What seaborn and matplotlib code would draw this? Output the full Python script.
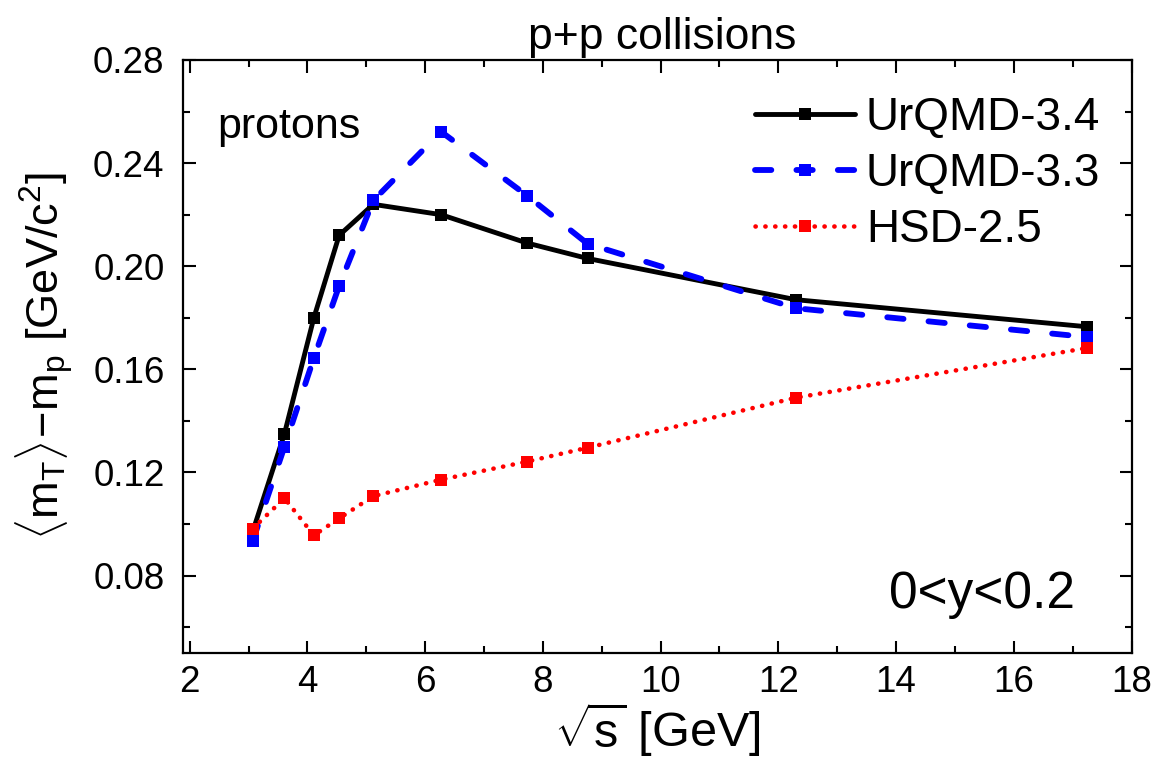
import numpy as np
import pandas as pd
import matplotlib
matplotlib.use("Agg")
import matplotlib.pyplot as plt
from matplotlib.ticker import MultipleLocator
import seaborn as sns

# collision energies sqrt(s) [GeV]
energies = [3.07, 3.61, 4.11, 4.54, 5.12, 6.27, 7.73, 8.76, 12.3, 17.25]

# <mT> - mp [GeV/c^2]
urqmd34 = [0.097, 0.135, 0.180, 0.212, 0.224, 0.220, 0.209, 0.203, 0.187, 0.1765]
urqmd33 = [0.0933, 0.130, 0.1644, 0.1924, 0.2255, 0.2522, 0.2274, 0.2087, 0.1837, 0.1725]
hsd25 = [0.0982, 0.110, 0.0956, 0.1022, 0.1108, 0.1172, 0.1242, 0.1296, 0.149, 0.1683]

series_names = ["UrQMD-3.4", "UrQMD-3.3", "HSD-2.5"]

sns.set_style("ticks")
plt.rcParams['font.family'] = ['Liberation Sans', 'DejaVu Sans']
plt.rcParams['mathtext.fontset'] = 'custom'
plt.rcParams['mathtext.rm'] = 'Liberation Sans'
plt.rcParams['mathtext.it'] = 'Liberation Sans'
for key in ['text.color', 'axes.labelcolor', 'xtick.color', 'ytick.color', 'axes.edgecolor']:
    plt.rcParams[key] = 'black'

fig = plt.figure(figsize=(11.63, 7.69), dpi=100)
ax = fig.add_axes([0.157, 0.151, 0.816, 0.771])

# one line per model
sns.lineplot(x=energies, y=urqmd34, ax=ax, color='black', marker='s',
             markersize=8, markeredgewidth=0, linewidth=3.5, sort=False,
             solid_capstyle='round', label=series_names[0])
sns.lineplot(x=energies, y=urqmd33, ax=ax, color='#0000ff', marker='s',
             markersize=8, markeredgewidth=0, linewidth=4.2, sort=False,
             linestyle=(0, (2.8, 4.3)), dash_capstyle='round',
             label=series_names[1])
sns.lineplot(x=energies, y=hsd25, ax=ax, color='#ff0000', marker='s',
             markersize=8.7, markeredgewidth=0, linewidth=3.3, sort=False,
             linestyle=(0, (0.05, 2.1)), dash_capstyle='round',
             label=series_names[2])

ax.set_xlim(1.88, 18)
ax.set_ylim(0.05, 0.28)
ax.xaxis.set_major_locator(MultipleLocator(2))
ax.xaxis.set_minor_locator(MultipleLocator(1))
ax.yaxis.set_major_locator(MultipleLocator(0.04))
ax.yaxis.set_minor_locator(MultipleLocator(0.02))
ax.yaxis.set_major_formatter(matplotlib.ticker.FormatStrFormatter('%.2f'))

ax.tick_params(which='both', direction='in', top=True, right=True, width=1.5)
ax.tick_params(which='major', length=9, labelsize=26.5)
ax.tick_params(axis='y', which='major', pad=13)
ax.tick_params(axis='x', which='major', pad=9)
ax.tick_params(which='minor', length=5)
for lab in ax.get_xticklabels():
    lab.set_family(['Liberation Sans Narrow', 'Liberation Sans'])
for sp in ax.spines.values():
    sp.set_linewidth(1.6)

ax.set_xlabel(r'$\sqrt{\mathrm{s}}$ [GeV]', fontsize=35, labelpad=0)
ax.set_ylabel(r'$\langle\mathrm{m_T}\rangle\!-\!\mathrm{m_p}$ [GeV/c$^2$]',
              fontsize=32.5, labelpad=12)
ax.set_title('p+p collisions', fontsize=32, pad=8, x=0.505)

ax.text(0.037, 0.887, 'protons', transform=ax.transAxes, fontsize=31,
        ha='left', va='center')
ax.text(0.842, 0.098, '0<y<0.2', transform=ax.transAxes, fontsize=37,
        ha='center', va='center')

ax.legend(loc='upper left', bbox_to_anchor=(0.603, 0.94), frameon=False,
          fontsize=33, handlelength=2.18, handletextpad=0.24,
          labelspacing=0.27, borderpad=0, borderaxespad=0, numpoints=1)

fig.savefig('out.png', dpi=100)
